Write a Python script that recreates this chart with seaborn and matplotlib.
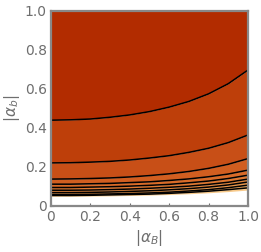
import matplotlib
matplotlib.use("Agg")
import matplotlib.pyplot as plt
import seaborn as sns
import pandas as pd

# |alpha_B| sample points and the contour curves |alpha_b|(x)
alpha_B = [0.0, 0.1, 0.2, 0.3, 0.4, 0.5, 0.6, 0.7, 0.8, 0.9, 1.0]
line1 = [0.438, 0.440, 0.444, 0.453, 0.465, 0.482, 0.505, 0.534, 0.573, 0.625, 0.695]
line2 = [0.219, 0.220, 0.223, 0.227, 0.234, 0.244, 0.256, 0.273, 0.294, 0.323, 0.362]
line3 = [0.136, 0.137, 0.139, 0.142, 0.147, 0.154, 0.163, 0.175, 0.191, 0.212, 0.241]
line4 = [0.110, 0.110, 0.112, 0.114, 0.118, 0.122, 0.129, 0.137, 0.148, 0.162, 0.182]
line5 = [0.093, 0.093, 0.095, 0.097, 0.100, 0.104, 0.109, 0.117, 0.126, 0.139, 0.156]
line6 = [0.079, 0.079, 0.080, 0.082, 0.085, 0.089, 0.094, 0.100, 0.109, 0.120, 0.136]
line7 = [0.067, 0.067, 0.068, 0.070, 0.073, 0.076, 0.081, 0.087, 0.095, 0.106, 0.121]
line8 = [0.057, 0.057, 0.058, 0.060, 0.062, 0.065, 0.069, 0.075, 0.082, 0.092, 0.105]
line9 = [0.052, 0.052, 0.053, 0.055, 0.057, 0.059, 0.063, 0.068, 0.074, 0.082, 0.091]
edge = [0.048, 0.048, 0.049, 0.050, 0.052, 0.054, 0.057, 0.061, 0.066, 0.072, 0.080]
top = [1.0] * len(alpha_B)

bands = [top, line1, line2, line3, line4, line5, line6, line7, line8, line9, edge]
band_colors = ["#B22C00", "#BE3F0A", "#C84F17", "#D15E20", "#D96B28",
               "#DF7831", "#E4863B", "#EA9648", "#F0A85A", "#F7C98A"]
contours = [line1, line2, line3, line4, line5, line6, line7, line8, line9]

sns.set_theme(style="white")
plt.rcParams['font.family'] = ['DejaVu Sans']
gray = "#6e6e6e"

fig = plt.figure(figsize=(2.61, 2.52), dpi=100)
ax = fig.add_axes([0.195, 0.184, 0.755, 0.774])

for upper, lower, c in zip(bands[:-1], bands[1:], band_colors):
    ax.fill_between(alpha_B, lower, upper, color=c, linewidth=0)

df = pd.DataFrame({
    "x": alpha_B * len(contours),
    "y": sum(contours, []),
    "k": [i for i in range(len(contours)) for _ in alpha_B],
})
sns.lineplot(data=df, x="x", y="y", units="k", estimator=None,
             color="black", linewidth=1.1, ax=ax, legend=False)

ax.set_xlim(0, 1)
ax.set_ylim(0, 1)
ticks = [0, 0.2, 0.4, 0.6, 0.8, 1.0]
labels = ["0", "0.2", "0.4", "0.6", "0.8", "1.0"]
ax.set_xticks(ticks)
ax.set_xticklabels(labels)
ax.set_yticks(ticks)
ax.set_yticklabels(labels)
ax.tick_params(direction="in", length=2, width=0.8, color=gray,
               labelcolor=gray, labelsize=10, pad=3)
ax.tick_params(axis="x", bottom=True)
ax.tick_params(axis="y", left=True)
for s in ax.spines.values():
    s.set_color("#888888")
    s.set_linewidth(1.6)

ax.set_xlabel(r"$|\alpha_B|$", color=gray, fontsize=11, labelpad=3)
ax.set_ylabel(r"$|\alpha_b|$", color=gray, fontsize=11, labelpad=2)

fig.savefig("out.png", dpi=100)
